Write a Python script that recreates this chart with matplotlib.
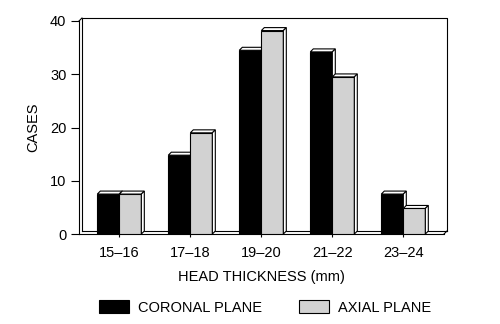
import matplotlib.pyplot as plt
from matplotlib.patches import Polygon, Patch

plt.rcParams['font.family'] = ['Liberation Sans', 'DejaVu Sans']

groups = ['15\u201316', '17\u201318', '19\u201320', '21\u201322', '23\u201324']
coronal = [7.5, 14.8, 34.5, 34.2, 7.5]
axial = [7.5, 19.0, 38.2, 29.5, 4.8]

width = 0.31
dx, dy = 0.042, 0.56   # depth of the fake 3D faces, in data units
xmin, xmax = -0.568, 4.573
ymax = 40
fs = 10.5
lw = 0.8

fig = plt.figure(figsize=(5, 3.24), dpi=100)
ax = fig.add_axes([79 / 500, 90 / 324, 365 / 500, 213 / 324])
ax.set_xlim(xmin, xmax)
ax.set_ylim(0, ymax)


def box(x0, h, color):
    # front face, top face and right side face of one bar
    ax.bar(x0, h, width, align='edge', color=color, edgecolor='black',
           linewidth=lw, zorder=3)
    top = [(x0, h), (x0 + dx, h + dy), (x0 + width + dx, h + dy), (x0 + width, h)]
    side = [(x0 + width, 0), (x0 + width + dx, dy), (x0 + width + dx, h + dy),
            (x0 + width, h)]
    for pts in (top, side):
        ax.add_patch(Polygon(pts, closed=True, facecolor='white',
                             edgecolor='black', linewidth=lw, zorder=3))


for i in range(len(groups)):
    box(i - width, coronal[i], 'black')
    box(i, axial[i], '#d2d2d2')

# back wall and floor outline
wall = dict(color='black', linewidth=lw, clip_on=False, zorder=2)
ax.plot([xmin + dx, xmin + dx, xmax + dx, xmax + dx],
        [dy, ymax + dy, ymax + dy, dy], **wall)
ax.plot([xmin + dx, xmax + dx], [dy, dy], **wall)
ax.plot([xmin, xmin + dx], [ymax, ymax + dy], **wall)
ax.plot([xmax, xmax + dx], [0, dy], **wall)

for s in ('top', 'right'):
    ax.spines[s].set_visible(False)
for s in ('left', 'bottom'):
    ax.spines[s].set_linewidth(lw)

ax.set_yticks([0, 10, 20, 30, 40])
ax.set_xticks(range(len(groups)))
ax.set_xticklabels(groups)
ax.tick_params(axis='y', direction='out', length=6, width=lw, pad=3,
               labelsize=fs)
ax.tick_params(axis='x', direction='out', length=2.5, width=lw, pad=6,
               labelsize=fs)
ax.set_ylabel('CASES', fontsize=fs, labelpad=7)
ax.set_xlabel('HEAD THICKNESS (mm)', fontsize=fs, labelpad=7)

handles = [Patch(facecolor='black', edgecolor='black', linewidth=lw),
           Patch(facecolor='#d2d2d2', edgecolor='black', linewidth=lw)]
fig.legend(handles, ['CORONAL PLANE', 'AXIAL PLANE'], loc='center',
           bbox_to_anchor=(0.53, 0.051), ncol=2, frameon=False, fontsize=fs,
           handlelength=2.1, handleheight=0.9, handletextpad=0.6,
           columnspacing=2.5)

fig.savefig('out.png', dpi=100)
